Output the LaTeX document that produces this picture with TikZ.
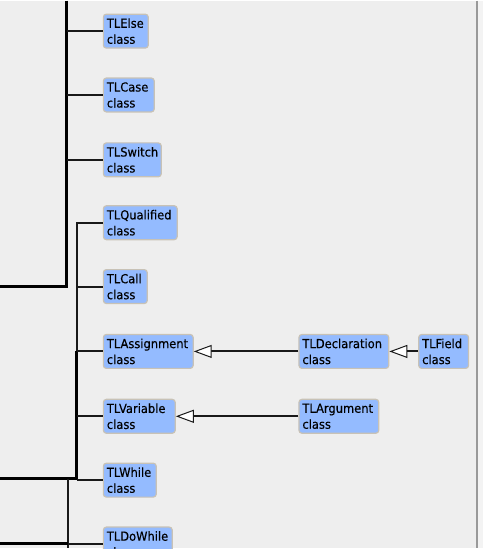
\documentclass[tikz,border=0pt]{standalone}
\usepackage{fontspec}
\setmainfont{DejaVu Sans}
\newfontfamily\clsfont[FakeStretch=0.92,FakeBold=0.25]{DejaVu Sans}
\usetikzlibrary{arrows.meta}
\definecolor{bgc}{HTML}{EEEEEE}
\definecolor{stripc}{HTML}{F3F3F3}
\definecolor{boxfill}{HTML}{94BBFF}
\definecolor{boxdraw}{HTML}{C8C2B6}
\definecolor{txt}{HTML}{000000}
\tikzset{
  cls/.style={draw=boxdraw, fill=boxfill, line width=1.2pt, rounded corners=3pt,
    anchor=north west, inner xsep=3.5pt, inner ysep=0pt, minimum height=34pt,
    align=left, text=txt, font=\clsfont\fontsize{12.5}{16}\selectfont},
  trunk/.style={line width=3pt, draw=black},
  branch/.style={line width=2pt, draw=black!90},
  gen/.style={line width=2pt, draw=black!90,
    -{Triangle[length=18pt,width=13pt,fill=white,line width=1pt]}}
}
\begin{document}
\begin{tikzpicture}[x=1pt,y=-1pt]
\fill[bgc] (0,0) rectangle (484,549);
\fill[stripc] (478,0) rectangle (484,549);
\draw[line width=1.2pt, draw=black!40] (478,0) -- (478,549);
\clip (0,0) rectangle (478,549);
\useasboundingbox (0,0) rectangle (484,549);

% nodes
\node[cls, text width=38pt] (else) at (103,13) {TLElse\\class};
\node[cls, text width=44pt] (case) at (103,77) {TLCase\\class};
\node[cls, text width=51pt] (switch) at (103,142) {TLSwitch\\class};
\node[cls, text width=67pt] (qual) at (103,205) {TLQualified\\class};
\node[cls, text width=37pt] (call) at (103,269) {TLCall\\class};
\node[cls, text width=83pt] (assign) at (103,334) {TLAssignment\\class};
\node[cls, text width=65pt] (var) at (103,399) {TLVariable\\class};
\node[cls, text width=46pt] (while) at (103,463) {TLWhile\\class};
\node[cls, text width=62pt] (dowhile) at (103,527) {TLDoWhile\\class};
\node[cls, text width=83pt] (decl) at (299,334) {TLDeclaration\\class};
\node[cls, text width=43pt] (field) at (419,334) {TLField\\class};
\node[cls, text width=73pt] (arg) at (299,399) {TLArgument\\class};

% trunk A
\coordinate (topA) at (67,0);
\coordinate (cornA) at (67,287);
\coordinate (offA) at (0,287);
\draw[trunk] (topA) -- (cornA) -- (offA);
\draw[branch] (else.west) -- (else.west -| topA);
\draw[branch] (case.west) -- (case.west -| topA);
\draw[branch] (switch.west) -- (switch.west -| topA);

% trunk B
\coordinate (topB) at (77,222);
\coordinate (midB) at (77,351);
\coordinate (cornB) at (77,479);
\coordinate (offB) at (0,479);
\draw[branch] (qual.west) -| (midB);
\draw[trunk] (midB) -- (cornB) -- (offB);
\draw[branch] (call.west) -- (call.west -| topB);
\draw[branch] (assign.west) -- (assign.west -| topB);
\draw[branch] (var.west) -- (var.west -| topB);
\draw[branch] (while.west) -- (while.west -| topB);

% trunk C
\coordinate (topC) at (68,479);
\coordinate (cornC) at (68,544);
\coordinate (botC) at (68,549);
\coordinate (offC) at (0,544);
\draw[branch] (topC) -- (botC);
\draw[branch] (dowhile.west) -- (dowhile.west -| topC);
\draw[trunk] (cornC) -- (offC);

% generalizations
\draw[gen] (decl.west) -- (assign.east);
\draw[gen] (field.west) -- (decl.east);
\draw[gen] (arg.west) -- (var.east);
\end{tikzpicture}
\end{document}
